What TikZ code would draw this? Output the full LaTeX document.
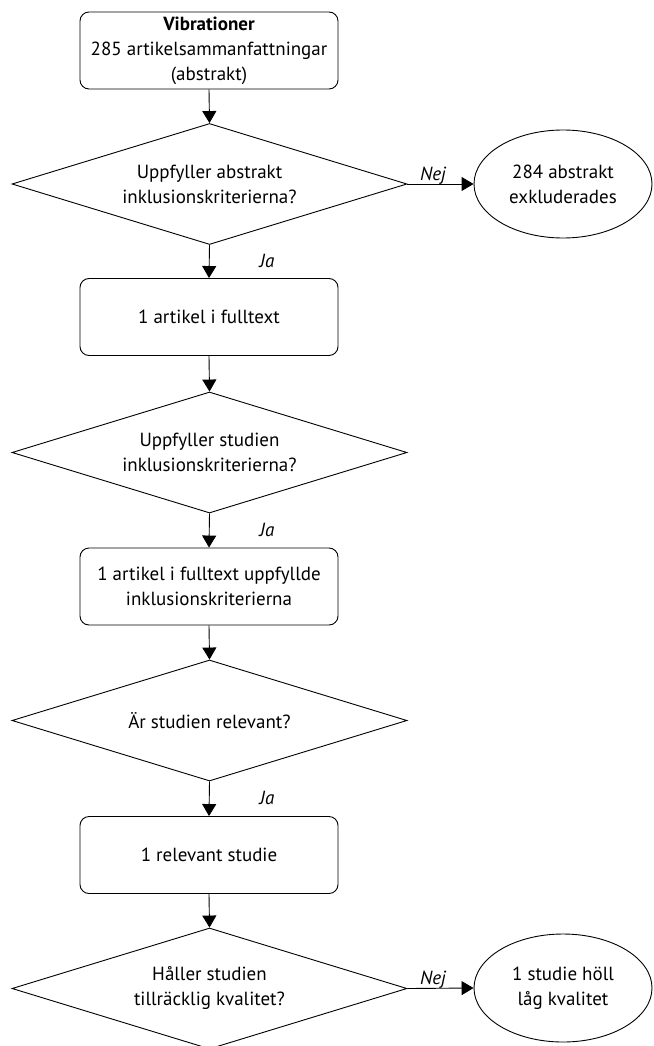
\documentclass[tikz,border=0pt]{standalone}
\usepackage{fontspec}
\setmainfont{PT Sans}
\usetikzlibrary{shapes.geometric,arrows.meta}
\begin{document}
\begin{tikzpicture}[x=1pt,y=-1pt,
  every node/.style={font=\fontsize{19}{25}\selectfont, align=center},
  flowbox/.style={draw, line width=0.9pt, rounded corners=9pt,
    minimum width=258pt, minimum height=77pt, inner sep=2pt},
  decision/.style={draw, line width=0.9pt, diamond, aspect=3.26,
    minimum width=395pt, minimum height=121pt, inner sep=0pt},
  outcome/.style={draw, line width=0.9pt, ellipse,
    minimum width=178pt, minimum height=108pt, inner sep=0pt},
  flow/.style={line width=0.9pt, -{Triangle[length=12pt,width=14pt]}},
  answer/.style={font=\fontsize{19}{25}\selectfont\itshape, inner sep=0pt}]

\clip (0,0) rectangle (653,1046);

% process boxes, decisions and end states
\node[flowbox]  (b1) at (209,50.5)  {\textbf{Vibrationer}\\285 artikelsammanfattningar\\(abstrakt)};
\node[decision] (d1) at (209.5,184) {Uppfyller abstrakt\\inklusionskriterierna?};
\node[outcome]  (e1) at (563,184)   {284 abstrakt\\exkluderades};
\node[flowbox]  (b2) at (209,317)   {1 artikel i fulltext};
\node[decision] (d2) at (209.5,452.5) {Uppfyller studien\\inklusionskriterierna?};
\node[flowbox]  (b3) at (209,586.5) {1 artikel i fulltext uppfyllde\\inklusionskriterierna};
\node[decision] (d3) at (209.5,720.5) {Är studien relevant?};
\node[flowbox]  (b4) at (209,855)   {1 relevant studie};
\node[decision] (d4) at (209.5,988.5) {Håller studien\\tillräcklig kvalitet?};
\node[outcome]  (e2) at (563,988)   {1 studie höll\\låg kvalitet};

% answer labels
\node[answer, anchor=base] (n1) at (433,180) {Nej};
\node[answer, anchor=base] (n2) at (433,984) {Nej};
\node[answer] (j1) at (267,261) {Ja};
\node[answer] (j2) at (267,530) {Ja};
\node[answer] (j3) at (267,798) {Ja};

% connectors
\draw[flow] (b1.south) -- (d1.north);
\draw[flow] (d1.east) -- (e1.west);
\draw[flow] (d1.south) -- (b2.north);
\draw[flow] (b2.south) -- (d2.north);
\draw[flow] (d2.south) -- (b3.north);
\draw[flow] (b3.south) -- (d3.north);
\draw[flow] (d3.south) -- (b4.north);
\draw[flow] (b4.south) -- (d4.north);
\draw[flow] (d4.east) -- (e2.west);
\end{tikzpicture}
\end{document}
